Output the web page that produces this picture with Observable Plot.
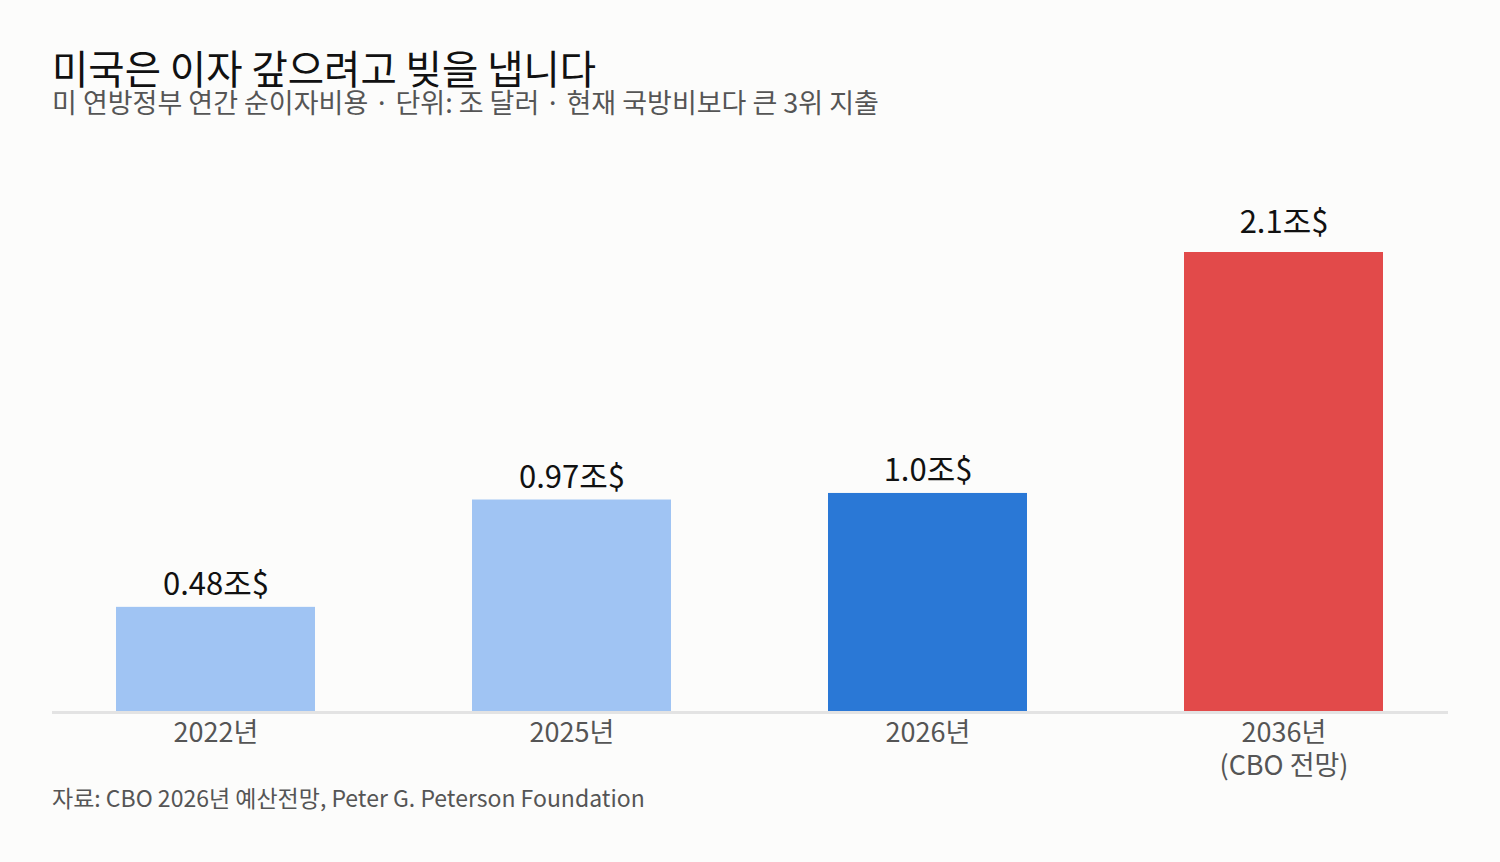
<!DOCTYPE html>
<html>
<head>
<meta charset="utf-8">
<script src="https://cdn.jsdelivr.net/npm/d3@7"></script>
<script src="https://cdn.jsdelivr.net/npm/@observablehq/plot@0.6"></script>
<style>
  html, body { margin: 0; padding: 0; background: #fcfcfb; }
  body { width: 1500px; height: 862px; overflow: hidden; position: relative; font-family: "Noto Sans CJK KR", "Noto Sans", sans-serif; }
  #title { position: absolute; left: 52px; top: 47px; font-size: 39.5px; line-height: 40px; color: #111; white-space: nowrap; }
  #subtitle { position: absolute; left: 52px; top: 88px; font-size: 27px; line-height: 28px; color: #555; white-space: nowrap; }
  #chart { position: absolute; left: 0; top: 130px; }
  #caption { position: absolute; left: 52px; top: 782px; font-size: 23px; line-height: 30px; color: #555; white-space: nowrap; }
  svg { display: block; }
</style>
</head>
<body>
<div id="title">미국은 이자 갚으려고 빚을 냅니다</div>
<div id="subtitle">미 연방정부 연간 순이자비용 · 단위: 조 달러 · 현재 국방비보다 큰 3위 지출</div>
<div id="chart"></div>
<div id="caption">자료: CBO 2026년 예산전망, Peter G. Peterson Foundation</div>
<script>
const categories = ["2022년", "2025년", "2026년", "2036년"];
const tickLabels = ["2022년", "2025년", "2026년", "2036년\n(CBO 전망)"];
const values = [0.48, 0.97, 1.0, 2.1];
const valueLabels = ["0.48조$", "0.97조$", "1.0조$", "2.1조$"];
const kinds = ["과거", "과거", "올해", "전망"];

const data = categories.map((c, i) => ({
  year: c, tick: tickLabels[i], value: values[i], label: valueLabels[i], kind: kinds[i]
}));

const chart = Plot.plot({
  width: 1500,
  height: 690,
  marginLeft: 52,
  marginRight: 52,
  marginTop: 122,
  marginBottom: 108,
  style: { background: "transparent", fontFamily: "'Noto Sans CJK KR', sans-serif" },
  x: { domain: categories, paddingInner: 0.441, paddingOuter: 0.18, axis: null },
  y: { domain: [0, d3.max(values)], axis: null },
  color: { domain: ["과거", "올해", "전망"], range: ["#a0c4f3", "#2a78d6", "#e24a4a"] },
  marks: [
    Plot.barY(data, { x: "year", y: "value", fill: "kind" }),
    Plot.ruleY([0], { stroke: "#e3e3e3", strokeWidth: 3 }),
    Plot.text(data.filter(d => d.kind !== "전망"), {
      x: "year", y: "value", text: "label", lineAnchor: "bottom", dy: -12,
      fontSize: 31, fill: "#111"
    }),
    Plot.text(data.filter(d => d.kind === "전망"), {
      x: "year", y: "value", text: "label", lineAnchor: "bottom", dy: -20,
      fontSize: 31, fill: "#111"
    }),
    Plot.text(data, {
      x: "year", y: () => 0, text: "tick", lineAnchor: "top", dy: 6,
      lineHeight: 1.22, fontSize: 27, fill: "#555"
    })
  ]
});
document.getElementById("chart").appendChild(chart);
</script>
</body>
</html>
